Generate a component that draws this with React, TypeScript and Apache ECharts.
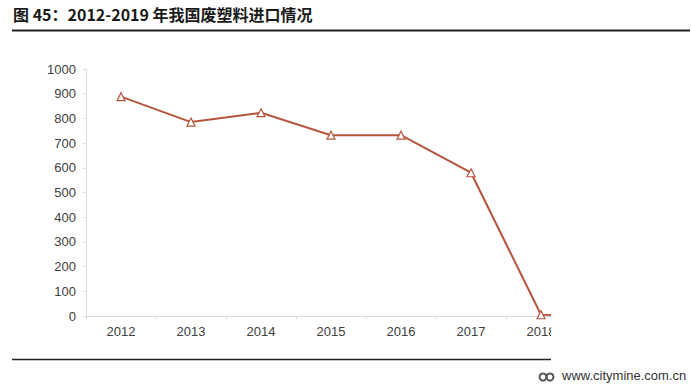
import React, { useEffect, useRef } from "react";
import * as echarts from "echarts";

const categories = ["2012", "2013", "2014", "2015", "2016", "2017", "2018", "2019"];
const imports = [888, 785, 823, 732, 732, 580, 5, 1];
const yTicks = { min: 0, max: 1000, interval: 100 };
const titleText = "图 45：2012-2019 年我国废塑料进口情况";
const watermark = "www.citymine.com.cn";

export default function App() {
  const ref = useRef<HTMLDivElement>(null);
  useEffect(() => {
    if (!ref.current) return;
    const chart = echarts.init(ref.current, undefined, { renderer: "svg" });
    const lineColor = "#b5553d";
    chart.setOption({
      animation: false,
      backgroundColor: "#ffffff",
      grid: { left: 86, right: 45, top: 69, bottom: 75, containLabel: false },
      xAxis: {
        type: "category",
        data: categories,
        boundaryGap: true,
        axisLine: { lineStyle: { color: "#d9d9d9", width: 1 } },
        axisTick: { show: true, alignWithLabel: false, length: 3, lineStyle: { color: "#d9d9d9" } },
        axisLabel: { color: "#404040", fontSize: 13, margin: 9, fontFamily: "Liberation Sans, Arial, sans-serif" },
      },
      yAxis: {
        type: "value",
        min: yTicks.min,
        max: yTicks.max,
        interval: yTicks.interval,
        axisLine: { show: true, lineStyle: { color: "#d9d9d9", width: 1 } },
        axisTick: { show: true, length: 3, inside: false, lineStyle: { color: "#d9d9d9" } },
        splitLine: { show: false },
        axisLabel: {
          color: "#404040",
          fontSize: 13,
          margin: 10,
          fontFamily: "Liberation Sans, Arial, sans-serif",
          formatter: (v: number) => String(v),
        },
      },
      series: [
        {
          type: "line",
          data: imports,
          symbol: "triangle",
          symbolSize: 8,
          lineStyle: { color: lineColor, width: 2 },
          itemStyle: { color: "#ffffff", borderColor: lineColor, borderWidth: 1.2 },
          z: 3,
        },
      ],
      graphic: [
        {
          type: "rect",
          z: 100,
          shape: { x: 551, y: 36, width: 140, height: 320 },
          style: { fill: "#ffffff" },
        },
        {
          type: "text",
          z: 110,
          left: 13,
          top: 6,
          style: {
            text: titleText,
            fontSize: 16,
            fontWeight: "bold",
            fill: "#1a1a1a",
            fontFamily: "Noto Sans CJK SC, sans-serif",
          },
        },
        {
          type: "line",
          z: 110,
          shape: { x1: 12, y1: 30.5, x2: 690, y2: 30.5 },
          style: { stroke: "#222222", lineWidth: 2 },
        },
        {
          type: "line",
          z: 110,
          shape: { x1: 12, y1: 359.5, x2: 551, y2: 359.5 },
          style: { stroke: "#222222", lineWidth: 1.5 },
        },
        {
          type: "circle",
          z: 110,
          shape: { cx: 543, cy: 377, r: 3.5 },
          style: { fill: "none", stroke: "#555555", lineWidth: 2 },
        },
        {
          type: "circle",
          z: 110,
          shape: { cx: 550, cy: 377, r: 3.5 },
          style: { fill: "none", stroke: "#555555", lineWidth: 2 },
        },
        {
          type: "text",
          z: 110,
          left: 562,
          top: 369,
          style: {
            text: watermark,
            fontSize: 13,
            fill: "#333333",
            fontFamily: "Liberation Sans, sans-serif",
          },
        },
      ],
    });
    return () => chart.dispose();
  }, []);
  return (
    <div style={{ position: "fixed", left: 0, top: 0, width: 691, height: 391, background: "#fff" }}>
      <div ref={ref} style={{ width: 691, height: 391 }} />
    </div>
  );
}
